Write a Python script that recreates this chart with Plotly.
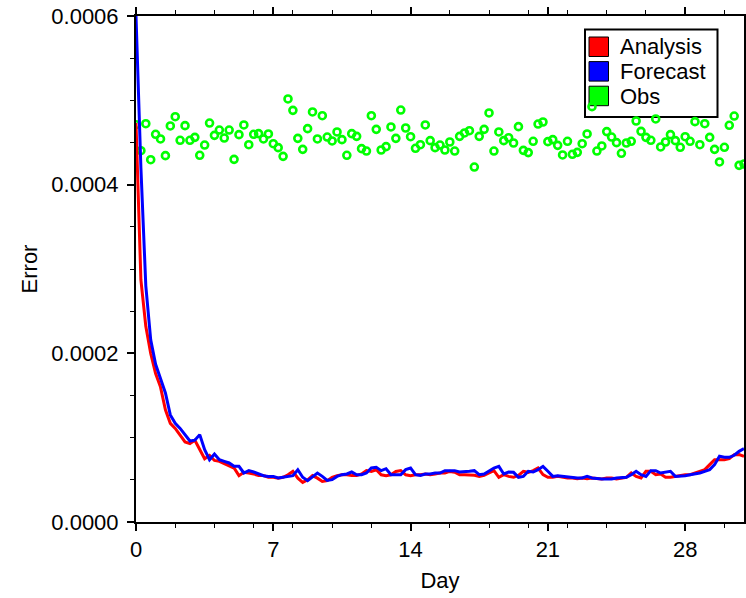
import plotly.graph_objects as go

# time axis: every 6 hours (0.25 day) from day 0 to day 31
days = [i * 0.25 for i in range(125)]

# values in units of 1e-4
analysis_e4 = [
    4.73, 2.87, 2.32, 2.00, 1.76, 1.60, 1.33, 1.17, 1.11, 1.03, 0.95, 0.93, 0.97,
    0.86, 0.75, 0.79, 0.73, 0.72, 0.69, 0.67, 0.64, 0.55, 0.59, 0.58, 0.57, 0.55,
    0.55, 0.53, 0.53, 0.52, 0.53, 0.56, 0.60, 0.52, 0.47, 0.50, 0.55, 0.52, 0.48,
    0.49, 0.53, 0.55, 0.56, 0.56, 0.55, 0.55, 0.57, 0.61, 0.60, 0.62, 0.56, 0.55,
    0.56, 0.60, 0.61, 0.56, 0.55, 0.56, 0.56, 0.57, 0.56, 0.57, 0.58, 0.58, 0.60,
    0.59, 0.56, 0.56, 0.561, 0.553, 0.541, 0.553, 0.581, 0.609, 0.530, 0.561,
    0.541, 0.530, 0.553, 0.601, 0.589, 0.609, 0.640, 0.561, 0.530, 0.530, 0.541,
    0.530, 0.522, 0.522, 0.514, 0.522, 0.514, 0.522, 0.514, 0.510, 0.522, 0.522,
    0.510, 0.522, 0.530, 0.581, 0.541, 0.522, 0.601, 0.601, 0.561, 0.569, 0.530,
    0.530, 0.541, 0.549, 0.561, 0.561, 0.581, 0.593, 0.621, 0.680, 0.739, 0.739,
    0.739, 0.751, 0.798, 0.800, 0.780,
]

forecast_e4 = [
    6.00, 4.20, 2.80, 2.16, 1.87, 1.70, 1.53, 1.27, 1.17, 1.11, 1.03, 0.96, 0.97,
    1.036, 0.858, 0.739, 0.806, 0.739, 0.719, 0.700, 0.660, 0.660, 0.581, 0.609,
    0.593, 0.569, 0.549, 0.541, 0.541, 0.522, 0.530, 0.534, 0.550, 0.620, 0.530,
    0.490, 0.541, 0.581, 0.541, 0.494, 0.502, 0.541, 0.561, 0.569, 0.593, 0.561,
    0.561, 0.581, 0.640, 0.648, 0.609, 0.632, 0.561, 0.561, 0.561, 0.621, 0.640,
    0.561, 0.553, 0.569, 0.569, 0.581, 0.581, 0.609, 0.609, 0.609, 0.593, 0.593,
    0.601, 0.609, 0.561, 0.569, 0.601, 0.640, 0.660, 0.569, 0.593, 0.589, 0.530,
    0.541, 0.601, 0.593, 0.621, 0.660, 0.601, 0.541, 0.549, 0.541, 0.530, 0.522,
    0.522, 0.522, 0.541, 0.522, 0.514, 0.510, 0.510, 0.510, 0.522, 0.530, 0.530,
    0.561, 0.601, 0.561, 0.541, 0.609, 0.609, 0.581, 0.593, 0.601, 0.541, 0.541,
    0.549, 0.561, 0.569, 0.581, 0.601, 0.621, 0.680, 0.779, 0.767, 0.767, 0.791,
    0.838, 0.870,
]

obs_e4 = [
    4.711, 4.403, 4.723, 4.296, 4.597, 4.542, 4.344, 4.696, 4.806, 4.526, 4.700,
    4.526, 4.561, 4.348, 4.470, 4.731, 4.585, 4.648, 4.553, 4.648, 4.300, 4.593,
    4.708, 4.474, 4.597, 4.605, 4.542, 4.601, 4.486, 4.439, 4.336, 5.016, 4.881,
    4.549, 4.419, 4.664, 4.862, 4.542, 4.818, 4.565, 4.518, 4.625,
    4.534, 4.348, 4.605, 4.573, 4.427, 4.399, 4.818, 4.656, 4.411, 4.451, 4.684,
    4.549, 4.885, 4.672, 4.569, 4.431, 4.474, 4.708, 4.522, 4.439, 4.470, 4.411,
    4.506, 4.399, 4.573, 4.613, 4.640, 4.209, 4.573, 4.656, 4.850, 4.399, 4.625,
    4.522, 4.557, 4.494, 4.688, 4.407, 4.380, 4.514, 4.719, 4.743,
    4.510, 4.534, 4.466, 4.352, 4.514, 4.360, 4.383, 4.486, 4.601, 4.925, 4.399,
    4.459, 4.629, 4.565, 4.498, 4.372, 4.494, 4.514, 4.755, 4.632, 4.561, 4.526,
    4.779, 4.447, 4.506, 4.593, 4.522, 4.443, 4.569, 4.514, 4.747, 4.474, 4.723,
    4.561, 4.419, 4.269, 4.443, 4.704, 4.814, 4.229, 4.245,
]

analysis = [v * 1e-4 for v in analysis_e4]
forecast = [v * 1e-4 for v in forecast_e4]
obs = [v * 1e-4 for v in obs_e4]

x_ticks = [0, 7, 14, 21, 28]
y_ticks = [0.0, 0.0002, 0.0004, 0.0006]
y_tick_text = ["0.0000", "0.0002", "0.0004", "0.0006"]

legend_labels = ["Analysis", "Forecast", "Obs"]

RED, BLUE, GREEN = "#ff0000", "#0000ff", "#00ff00"
legend_colors = [RED, BLUE, GREEN]
FONT = "Liberation Sans, Arial, Helvetica, sans-serif"

W, H = 746, 598
ML, MR, MT, MB = 136, 2, 16, 76
PW, PH = W - ML - MR, H - MT - MB


def px(xp):
    return (xp - ML) / PW


def py(yp):
    return (H - MB - yp) / PH


fig = go.Figure()
fig.add_trace(go.Scatter(x=days, y=obs, mode="markers", name="Obs", showlegend=False,
                         marker=dict(symbol="circle-open", size=7, color=GREEN,
                                     line=dict(width=2.6, color=GREEN))))
fig.add_trace(go.Scatter(x=days, y=analysis, mode="lines", name="Analysis",
                         showlegend=False, line=dict(color=RED, width=3)))
fig.add_trace(go.Scatter(x=days, y=forecast, mode="lines", name="Forecast",
                         showlegend=False, line=dict(color=BLUE, width=3)))

# legend box drawn as shapes + text (GMT-style square swatches); data drawn over it
shapes = [dict(type="rect", xref="paper", yref="paper", layer="below",
               x0=px(585), x1=px(717.5), y0=py(117), y1=py(29.5),
               line=dict(color="black", width=2), fillcolor="white")]
annotations = []
for k, (lab, col) in enumerate(zip(legend_labels, legend_colors)):
    top = 37 + k * 24.6
    shapes.append(dict(type="rect", xref="paper", yref="paper", layer="below",
                       x0=px(589), x1=px(608.5), y0=py(top + 19.5), y1=py(top),
                       line=dict(color="black", width=1), fillcolor=col))
    annotations.append(dict(xref="paper", yref="paper", x=px(618), y=py(top + 10),
                            xanchor="left", yanchor="middle", showarrow=False,
                            text=lab, font=dict(size=22, color="black")))

fig.update_layout(
    width=W, height=H,
    margin=dict(l=ML, r=MR, t=MT, b=MB, autoexpand=False),
    paper_bgcolor="white", plot_bgcolor="white",
    font=dict(family=FONT, size=22, color="black"),
    showlegend=False,
    shapes=shapes, annotations=annotations,
    xaxis=dict(range=[0, 31], tickmode="array", tickvals=x_ticks,
               automargin=False, ticklabeloverflow="allow",
               ticks="outside", ticklen=7, tickwidth=1.5, tickcolor="black",
               showline=True, linecolor="black", linewidth=2, mirror="allticks",
               showgrid=False, zeroline=False,
               minor=dict(dtick=2, tick0=0, ticks="outside", ticklen=4,
                          tickcolor="black", tickwidth=1.2, showgrid=False),
               title=dict(text="Day", standoff=11, font=dict(size=22))),
    yaxis=dict(range=[0, 0.0006], tickmode="array", tickvals=y_ticks,
               ticktext=y_tick_text, automargin=False, ticklabelstandoff=4,
               ticklabeloverflow="allow",
               ticks="outside", ticklen=7, tickwidth=1.5, tickcolor="black",
               showline=True, linecolor="black", linewidth=2, mirror="allticks",
               showgrid=False, zeroline=False,
               minor=dict(dtick=0.00005, tick0=0, ticks="outside", ticklen=4,
                          tickcolor="black", tickwidth=1.2, showgrid=False),
               title=dict(text="Error", standoff=8, font=dict(size=22))),
)

fig.write_html(
    "out.html",
    config={"displayModeBar": False},
    post_script="document.body.style.margin='0';document.body.style.overflow='hidden';",
)
